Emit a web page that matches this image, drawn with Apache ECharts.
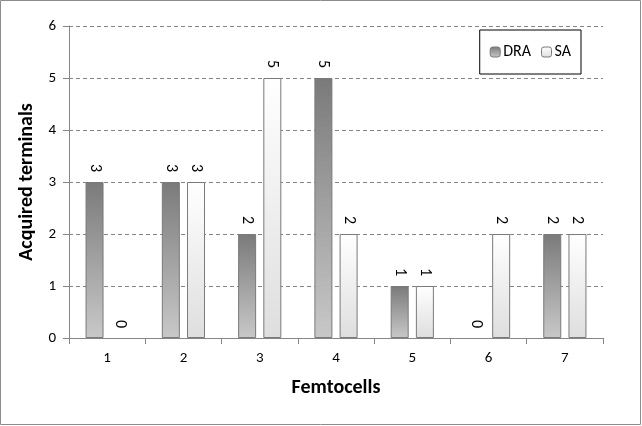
<!DOCTYPE html>
<html><head><meta charset="utf-8">
<script src="https://cdn.jsdelivr.net/npm/echarts@6/dist/echarts.min.js"></script>
<style>html,body{margin:0;padding:0;background:#fff}#c{width:642px;height:426px}</style>
</head><body><div id="c"></div>
<script>
const categories = ['1','2','3','4','5','6','7'];
const draValues = [3,3,2,5,1,0,2];
const saValues = [0,3,5,2,1,2,2];
const seriesNames = ['DRA','SA'];

const chart = echarts.init(document.getElementById('c'));
const font = 'Carlito, "Open Sans", "Liberation Sans", sans-serif';
const labelCfg = {show:true, position:'top', rotate:-90, align:'right', verticalAlign:'middle', distance:10, color:'#000', fontSize:16, fontFamily:font};
function toData(arr){
  return arr.map(v => v === 0 ? {value:v, itemStyle:{borderWidth:0, borderColor:'rgba(0,0,0,0)'}} : v);
}
chart.setOption({
  animation:false,
  graphic:[{type:'rect', shape:{x:0.5,y:0.5,width:640,height:424}, style:{fill:'none', stroke:'#8c8c8c', lineWidth:1}}],
  grid:{left:69, right:39, top:26, bottom:88},
  legend:{
    data:seriesNames, right:61, top:30, orient:'horizontal',
    borderColor:'#000', borderWidth:1, padding:[14,10,14,10],
    itemWidth:10, itemHeight:10, itemGap:10, itemStyle:{borderColor:'#7a7a7a', borderWidth:1},
    textStyle:{fontSize:16, fontFamily:font, color:'#000', padding:[0,0,0,-2]}
  },
  xAxis:{
    type:'category', data:categories,
    name:'Femtocells', nameLocation:'middle', nameGap:40,
    nameTextStyle:{fontSize:20, fontWeight:'bold', fontFamily:font, color:'#000'},
    axisLine:{lineStyle:{color:'#868686'}},
    axisTick:{show:true, length:6, lineStyle:{color:'#868686'}},
    axisLabel:{fontSize:15, fontFamily:font, color:'#000', margin:13}
  },
  yAxis:{
    type:'value', min:0, max:6, interval:1,
    name:'Acquired terminals', nameLocation:'middle', nameGap:30,
    nameTextStyle:{fontSize:20, fontWeight:'bold', fontFamily:font, color:'#000'},
    axisLine:{show:true, lineStyle:{color:'#868686'}},
    axisTick:{show:true, length:6, lineStyle:{color:'#868686'}},
    axisLabel:{fontSize:15, fontFamily:font, color:'#000', margin:13},
    splitLine:{lineStyle:{color:'#868686', type:[4,3]}}
  },
  series:[
    {name:seriesNames[0], type:'bar', data:toData(draValues), barWidth:18, barGap:'40%',
     itemStyle:{borderColor:'#7a7a7a', borderWidth:1,
       color:new echarts.graphic.LinearGradient(0,0,0,1,[{offset:0,color:'#7a7a7a'},{offset:1,color:'#c8c8c8'}])},
     label:labelCfg},
    {name:seriesNames[1], type:'bar', data:toData(saValues), barWidth:18,
     itemStyle:{borderColor:'#7a7a7a', borderWidth:1,
       color:new echarts.graphic.LinearGradient(0,0,0,1,[{offset:0,color:'#ffffff'},{offset:1,color:'#dedede'}])},
     label:labelCfg}
  ]
});
</script></body></html>
